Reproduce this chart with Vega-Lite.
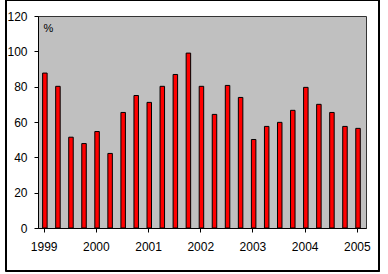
{
  "$schema": "https://vega.github.io/schema/vega-lite/v6.json",
  "width": 328,
  "height": 212,
  "autosize": {"type": "none"},
  "padding": {"left": 38, "top": 16, "right": 22, "bottom": 46},
  "background": "white",
  "config": {
    "view": {"fill": "#C0C0C0", "stroke": "#333333", "strokeWidth": 1},
    "font": "Liberation Sans",
    "axis": {"grid": false, "domainColor": "black", "tickColor": "black", "labelColor": "black", "labelFont": "Liberation Sans", "labelFontSize": 12, "tickSize": 4, "labelOverlap": false, "labelFlush": false, "labelBound": false}
  },
  "data": {"values": [
    {"t": 1999.0, "v": 87.7}, {"t": 1999.25, "v": 80.2}, {"t": 1999.5, "v": 51.4}, {"t": 1999.75, "v": 47.8},
    {"t": 2000.0, "v": 54.6}, {"t": 2000.25, "v": 42.2}, {"t": 2000.5, "v": 65.4}, {"t": 2000.75, "v": 75.0},
    {"t": 2001.0, "v": 71.1}, {"t": 2001.25, "v": 80.2}, {"t": 2001.5, "v": 86.9}, {"t": 2001.75, "v": 99.0},
    {"t": 2002.0, "v": 80.2}, {"t": 2002.25, "v": 64.3}, {"t": 2002.5, "v": 80.7}, {"t": 2002.75, "v": 73.9},
    {"t": 2003.0, "v": 50.1}, {"t": 2003.25, "v": 57.5}, {"t": 2003.5, "v": 59.8}, {"t": 2003.75, "v": 66.6},
    {"t": 2004.0, "v": 79.6}, {"t": 2004.25, "v": 70.0}, {"t": 2004.5, "v": 65.4}, {"t": 2004.75, "v": 57.5},
    {"t": 2005.0, "v": 56.4}
  ]},
  "layer": [
    {
      "mark": {"type": "bar", "size": 4.5, "color": "#FF0000", "stroke": "black", "strokeWidth": 1, "clip": true, "xOffset": 1.2},
      "encoding": {
        "x": {"field": "t", "type": "quantitative", "scale": {"domain": [1998.987, 2005.08], "nice": false, "zero": false},
              "axis": {"values": [1999, 2000, 2001, 2002, 2003, 2004, 2005], "format": "d", "title": null, "labelPadding": 9}},
        "y": {"field": "v", "type": "quantitative", "scale": {"domain": [0, 120], "nice": false},
              "axis": {"values": [0, 20, 40, 60, 80, 100, 120], "title": "%", "titleAngle": 0, "titleX": 5, "titleY": 6,
                       "titleAlign": "left", "titleBaseline": "top", "titleFontWeight": "normal", "titleFont": "Liberation Sans", "titleFontSize": 11, "titleColor": "black", "labelPadding": 7}}
      }
    },
    {
      "mark": {"type": "rect", "fill": null, "stroke": "black", "strokeWidth": 1, "clip": false},
      "encoding": {
        "x": {"datum": 1998.276, "type": "quantitative", "scale": {"domain": [1998.987, 2005.08], "nice": false, "zero": false},
              "axis": {"values": [1999, 2000, 2001, 2002, 2003, 2004, 2005], "format": "d", "title": null, "labelPadding": 9}},
        "x2": {"datum": 2005.428},
        "y": {"datum": 128.77, "type": "quantitative", "scale": {"domain": [0, 120], "nice": false},
              "axis": {"values": [0, 20, 40, 60, 80, 100, 120], "title": "%", "titleAngle": 0, "titleX": 5, "titleY": 6,
                       "titleAlign": "left", "titleBaseline": "top", "titleFontWeight": "normal", "titleFont": "Liberation Sans", "titleFontSize": 11, "titleColor": "black", "labelPadding": 7}},
        "y2": {"datum": -24.34}
      }
    }
  ]
}
